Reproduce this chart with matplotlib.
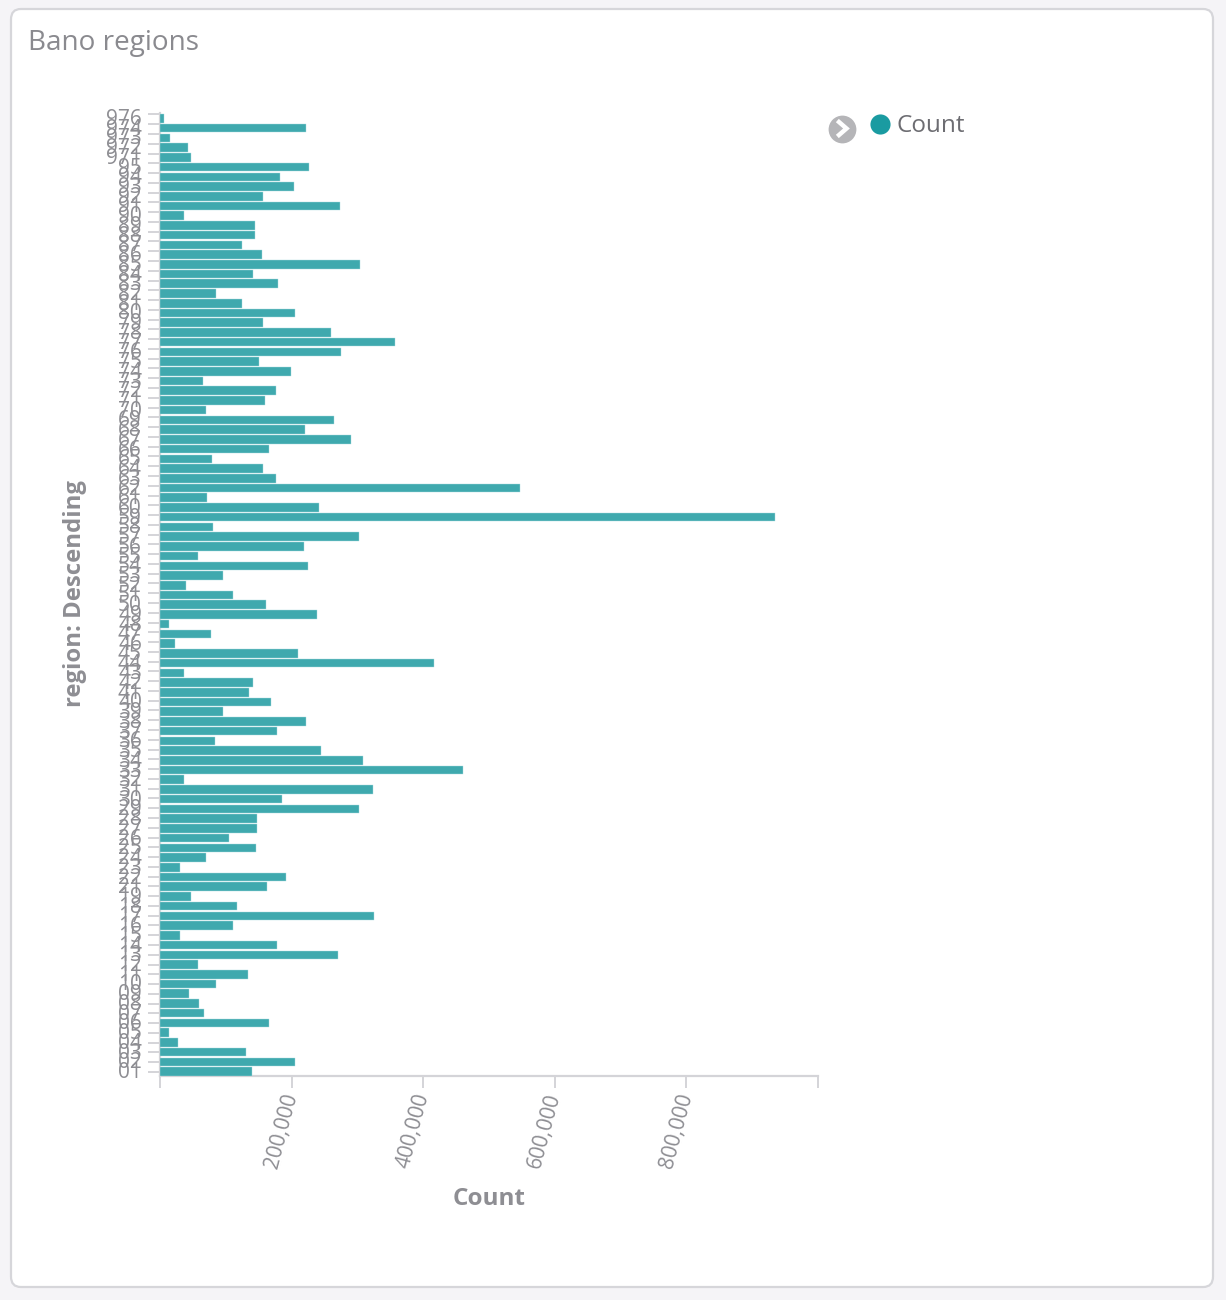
import matplotlib
matplotlib.use("Agg")
import matplotlib.pyplot as plt
from matplotlib.patches import FancyBboxPatch
from matplotlib.lines import Line2D
from matplotlib.transforms import ScaledTranslation

plt.rcParams['font.family'] = ['Open Sans', 'DejaVu Sans']

regions = ['01','02','03','04','05','06','07','08','09','10','11','12','13','14','15','16','17','18','19',
           '21','22','23','24','25','26','27','28','29','30','31','32','33','34','35','36','37','38','39','40',
           '41','42','43','44','45','46','47','48','49','50','51','52','53','54','55','56','57','58','59','60',
           '61','62','63','64','65','66','67','68','69','70','71','72','73','74','75','76','77','78','79','80',
           '81','82','83','84','85','86','87','88','89','90','91','92','93','94','95','971','972','973','974','976']
counts = [140,205,131,28,14,165,67,60,44,85,134,57,270,178,31,111,325,117,47,
          163,192,30,70,146,105,148,148,302,186,323,36,460,309,245,84,178,222,95,169,
          136,142,36,416,210,23,78,14,239,161,111,39,95,225,58,219,302,81,935,242,
          72,547,176,157,79,166,291,220,264,70,160,177,65,199,151,275,357,260,157,205,
          125,85,179,141,304,155,124,145,145,37,273,156,204,182,226,47,42,15,222,6]
counts = [c * 1000 for c in counts]
x_ticks = [0, 200000, 400000, 600000, 800000, 1000000]
x_labels = ['', '200,000', '400,000', '600,000', '800,000', '']

W, H = 1226, 1300
GREY = '#8e8e93'
AXIS = '#d4d4d8'

fig = plt.figure(figsize=(W/100, H/100), dpi=100, facecolor='#f5f4f7')

def fx(p): return p / W
def fy(p): return 1 - p / H

card = FancyBboxPatch((11/W, 1-1287/H), 1202/W, 1278/H,
                      boxstyle="round,pad=0,rounding_size=0.008",
                      transform=fig.transFigure, facecolor='white', edgecolor='#d6d6da',
                      linewidth=1.6, zorder=-5)
fig.add_artist(card)

ax = fig.add_axes([fx(160), fy(1076), (818-160)/W, (1076-113)/H])
ax.set_facecolor('none')
ypos = list(range(len(regions)))
ax.barh(ypos, counts, height=0.88, color='#3fa9ae', edgecolor='#a9dcdf', linewidth=0.3, zorder=3)
ax.set_xlim(0, 1000000)
ax.set_ylim(-0.46, 98.56)
for s in ('top', 'right'):
    ax.spines[s].set_visible(False)
for s in ('left', 'bottom'):
    ax.spines[s].set_color(AXIS)
    ax.spines[s].set_linewidth(1.6)
    ax.spines[s].set_zorder(1)

ax.set_xticks(x_ticks)
ax.set_xticklabels(x_labels, rotation=75, ha='right', va='center', rotation_mode='anchor',
                   fontsize=15, color=GREY)
ax.tick_params(axis='x', length=8.5, width=1.4, color=AXIS, pad=4)

# labels sit on the bars, the tick marks run on a slightly wider spacing
tick_scale = 9.77 / 9.724
ax.set_yticks(ypos)
ax.set_yticklabels(regions, fontsize=15, color=GREY, va='center')
ax.tick_params(axis='y', which='major', length=0, pad=13)
ax.set_yticks([i * tick_scale - 0.05 for i in ypos], minor=True)
ax.tick_params(axis='y', which='minor', length=8.5, width=1.4, color=AXIS)
down = ScaledTranslation(0, -1.0 / 100, fig.dpi_scale_trans)
for t in ax.get_yticklabels():
    t.set_transform(t.get_transform() + down)

fig.text(fx(489), fy(1199), 'Count', fontsize=17.5, fontweight='bold', color=GREY, ha='center', va='center')
fig.text(fx(75), fy(594), 'region: Descending', fontsize=17.2, fontweight='bold', color=GREY,
         rotation=90, ha='center', va='center')
fig.text(fx(28), fy(43), 'Bano regions', fontsize=20.1, color='#8a8a8f', ha='left', va='center')

# legend
fig.add_artist(Line2D([fx(880)], [fy(123.5)], marker='o', markersize=14.5, color='#1a9ba1',
                      markeredgewidth=0, transform=fig.transFigure))
fig.text(fx(897), fy(126), 'Count', fontsize=17.5, color='#6d6d72', ha='left', va='center')
fig.add_artist(Line2D([fx(842.5)], [fy(128.5)], marker='o', markersize=20, color='#b5b5b8',
                      markeredgewidth=0, transform=fig.transFigure))
fig.add_artist(Line2D([fx(839), fx(846.5), fx(839)], [fy(122), fy(128.5), fy(135)], color='white',
                      linewidth=3.2, transform=fig.transFigure, solid_joinstyle='miter'))

fig.savefig('out.png', dpi=100, facecolor=fig.get_facecolor())
